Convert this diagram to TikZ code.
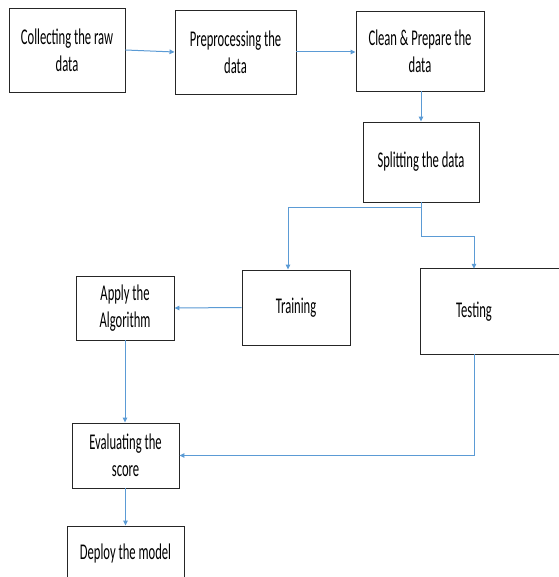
\documentclass[tikz,border=0pt]{standalone}
\usepackage{fontspec}
\setmainfont{Carlito}[FakeStretch=0.56]
\usetikzlibrary{arrows.meta}
\definecolor{lnblue}{HTML}{5B9BD5}
\tikzset{
  box/.style={draw=black!85, line width=0.9pt, fill=white, align=center, inner sep=0pt,
    font=\fontsize{22.5}{27}\selectfont, text=black},
  openbox/.style={align=center, inner sep=0pt, font=\fontsize{22.5}{27}\selectfont, text=black},
  boxline/.style={draw=black!85, line width=0.9pt},
  arr/.style={draw=lnblue, line width=1pt, -{Triangle[length=5pt,width=4.5pt]}}
}
\begin{document}
\begin{tikzpicture}[x=1pt,y=-1pt]
\useasboundingbox[fill=white] (0,0) rectangle (558,577);
\node[box, minimum width=116pt, minimum height=84pt] (b1) at (67,50) {Collecting the raw\\data};
\node[box, minimum width=121pt, minimum height=84pt] (b2) at (235.5,52) {Preprocessing the\\data};
\node[box, minimum width=128pt, minimum height=80pt] (b3) at (420,51) {Clean \& Prepare the\\data};
\node[box, minimum width=116pt, minimum height=80pt] (split) at (421,162) {Splitting the data};
\node[box, minimum width=108pt, minimum height=75pt] (train) at (296,307.5) {Training};
\node[openbox, minimum width=106pt, minimum height=85pt] (test) at (474,311.5) {Testing};
\draw[boxline] ([xshift=40pt]test.north east) -- (test.north west) -- (test.south west) -- ([xshift=40pt]test.south east);
\node[box, minimum width=98pt, minimum height=64pt] (apply) at (125,308) {Apply the\\Algorithm};
\node[box, minimum width=107pt, minimum height=65pt] (eval) at (125.5,455.5) {Evaluating the\\score};
\node[box, minimum width=117pt, minimum height=54pt] (deploy) at (125.5,553) {Deploy the model};

\coordinate (s1) at (421,207);
\coordinate (s2) at (421,236);
\draw[arr] (b1.east) -- (b2.west);
\draw[arr] (b2.east) -- (b2.east -| b3.west);
\draw[arr] (b3.south -| split.north) -- (split.north);
\draw[arr] (split.south) -- (s1) -| ([xshift=-8pt]train.north);
\draw[arr] (split.south) -- (s2) -| (test.north);
\draw[arr] (train.west) -- (apply.east);
\draw[arr] (apply.south) -- (apply.south |- eval.north);
\draw[arr] (test.south) |- (eval.east);
\draw[arr] (eval.south) -- (deploy.north);
\end{tikzpicture}
\end{document}
